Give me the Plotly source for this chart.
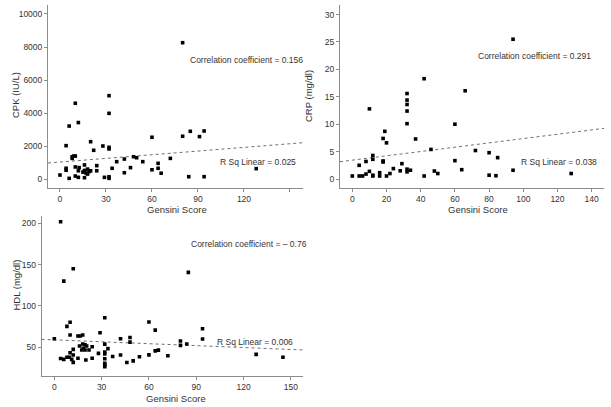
import plotly.graph_objects as go

W, H = 611, 407

# ---------------- data ----------------
cpk_x = [0, 4, 4, 4, 6, 6, 8, 9, 10, 8, 10, 10, 10, 12, 12.5, 12, 12, 15, 16, 16, 16, 17, 18, 18, 19,
         20, 20, 22, 24, 24, 28, 29, 32, 32, 32, 32, 32, 32, 34, 37, 42, 42, 46, 48, 50, 54,
         60, 60, 64, 64, 66, 72, 80, 80, 84, 85, 91, 94, 94, 128]
cpk_y = [240, 2020, 650, 530, 3210, 40, 1350, 1390, 1390, 1250, 4590, 180, 730, 3420, 690, 500, 100, 420,
         850, 520, 80, 360, 600, 300, 450, 2260, 500, 1740, 810, 500, 2000, 100, 1920, 1820, 3980, 5050,
         140, 40, 650, 1050, 1210, 380, 690, 1350, 1290, 1050, 2530, 560, 950, 650, 350, 1250, 8260,
         2590, 140, 2890, 2570, 2910, 140, 630]

crp_x = [0, 4, 4, 6, 8, 8, 10, 10, 12, 12, 12, 12, 16, 16, 18, 18, 18, 19, 20, 20, 22, 24, 28, 29,
         32, 32, 32, 32, 32, 32, 32, 34, 37, 42, 42, 46, 48, 50, 60, 60, 64, 66, 72, 80, 80, 84, 85,
         94, 94, 128]
crp_y = [0.55, 2.5, 0.55, 0.55, 3.2, 0.9, 12.8, 1.4, 4.3, 3.6, 0.7, 0.55, 1.15, 0.55, 7.4, 3.3, 3.1,
         8.7, 6.6, 0.55, 1.0, 1.9, 1.5, 2.8, 15.6, 14.4, 13.6, 12.4, 10.1, 1.8, 1.3, 1.6, 7.3, 18.3,
         0.55, 5.4, 1.46, 1.0, 10.0, 3.35, 1.7, 16.1, 5.2, 4.8, 0.7, 0.6, 3.9, 25.5, 1.6, 1.0]

hdl_x = [0, 4, 4, 6, 6, 8, 8, 9.5, 10, 10, 10, 11, 12, 12, 12, 12, 15, 15, 16.5, 16, 18, 18, 18.4,
         17.4, 19.5, 19.5, 20.5, 20, 22, 24, 24, 28, 29, 32, 32, 32, 32, 32, 32, 32, 32, 34, 37, 42,
         42, 46, 48, 48, 50, 54, 60, 60, 64, 64, 66, 72, 80, 80, 84, 85, 94, 94, 128, 145]
hdl_y = [60, 202, 36, 130, 35, 75, 37.5, 37.5, 80, 64.6, 43, 35, 145, 47.2, 40.3, 31.4, 63.4, 36.3,
         63.4, 51.2, 64.6, 53.6, 48.4, 46.4, 52.8, 46.4, 51.2, 34.2, 46.4, 50.4, 36.3, 42.3, 67.4,
         85.5, 53.5, 44, 41.5, 35.8, 30.2, 28.2, 26.1, 48, 38.5, 60, 40.3, 31.2, 61.5, 56, 33.2,
         38.2, 80.3, 40.5, 70.5, 45.3, 46.2, 39.5, 57.3, 52, 53.6, 140.6, 72.2, 59.7, 41.1, 37.5]

# fit lines (intercept, slope)
cpk_fit = (1028, 7.4)
crp_fit = (3.44, 0.0394)
hdl_fit = (58.7, -0.0778)

cpk_xticks = [0, 30, 60, 90, 120, 150]
cpk_xtext = ["0", "30", "60", "90", "120", ""]
cpk_yticks = [0, 2000, 4000, 6000, 8000, 10000]
crp_xticks = [0, 20, 40, 60, 80, 100, 120, 140]
crp_yticks = [0, 5, 10, 15, 20, 25, 30]
hdl_xticks = [0, 30, 60, 90, 120, 150]
hdl_yticks = [50, 100, 150, 200]

x_title = "Gensini Score"
y_titles = ["CPK (IU/L)", "CRP (mg/dl)", "HDL (mg/dl)"]
corr_texts = ["Correlation coefficient = 0.156", "Correlation coefficient = 0.291",
              "Correlation coefficient = \u2013 0.76"]
rsq_texts = ["R Sq Linear = 0.025", "R Sq Linear = 0.038", "R Sq Linear = 0.006"]

# ---------------- layout helpers ----------------
FONT = "Liberation Sans, Arial, sans-serif"
TXT = "#333333"
AX = "#8c8c8c"


def px_x(p):
    return p / W


def px_y(p):
    return 1 - p / H


panels = [
    dict(x=cpk_x, y=cpk_y, fit=cpk_fit, xr=[-7.8, 158.5], yr=[-545, 10545],
         xd=[48, 303], yd=[5, 188], xt=cpk_xticks, xtt=cpk_xtext, yt=cpk_yticks,
         xtitle=(177, 209), ytitle=(15, 95), corr=(246.5, 60), rsq=(257.5, 162)),
    dict(x=crp_x, y=crp_y, fit=crp_fit, xr=[-7.2, 147.2], yr=[-1.64, 31.75],
         xd=[340, 604], yd=[5, 188], xt=crp_xticks, xtt=[str(v) for v in crp_xticks], yt=crp_yticks,
         xtitle=(478, 209), ytitle=(309, 96), corr=(534, 56), rsq=(558.5, 162)),
    dict(x=hdl_x, y=hdl_y, fit=hdl_fit, xr=[-8.0, 157.9], yr=[15.2, 209],
         xd=[41.7, 303.3], yd=[216, 375.7], xt=hdl_xticks, xtt=[str(v) for v in hdl_xticks], yt=hdl_yticks,
         xtitle=(176, 398), ytitle=(15.5, 285), corr=(248.5, 244), rsq=(255, 342)),
]

fig = go.Figure()
annotations = []
for i, p in enumerate(panels):
    n = "" if i == 0 else str(i + 1)
    xa, ya = "x" + n, "y" + n
    b0, b1 = p["fit"]
    lx = [p["xr"][0], p["xr"][1]]
    ly = [b0 + b1 * v for v in lx]
    fig.add_trace(go.Scatter(x=lx, y=ly, mode="lines", xaxis=xa, yaxis=ya,
                             line=dict(color="#707070", width=1, dash="dot"),
                             hoverinfo="skip", showlegend=False))
    fig.add_trace(go.Scatter(x=p["x"], y=p["y"], mode="markers", xaxis=xa, yaxis=ya,
                             marker=dict(symbol="square", size=3.6, color="black", line=dict(width=0)),
                             showlegend=False))
    axis_common = dict(showgrid=False, zeroline=False, showline=True, linecolor=AX, linewidth=1,
                       ticks="outside", ticklen=3, tickcolor=AX, tickwidth=1,
                       tickfont=dict(family=FONT, size=8.5, color=TXT))
    fig.layout["xaxis" + n] = dict(axis_common, domain=[px_x(p["xd"][0]), px_x(p["xd"][1])],
                                   range=p["xr"], tickmode="array", tickvals=p["xt"], ticktext=p["xtt"],
                                   anchor=ya)
    fig.layout["yaxis" + n] = dict(axis_common, domain=[px_y(p["yd"][1]), px_y(p["yd"][0])],
                                   range=p["yr"], tickmode="array", tickvals=p["yt"],
                                   ticktext=[str(v) for v in p["yt"]], anchor=xa)
    annotations.append(dict(text=x_title, x=px_x(p["xtitle"][0]), y=px_y(p["xtitle"][1]),
                            xref="paper", yref="paper", showarrow=False, xanchor="center", yanchor="middle",
                            borderpad=0, font=dict(family=FONT, size=9.5, color=TXT)))
    annotations.append(dict(text=y_titles[i], x=px_x(p["ytitle"][0]), y=px_y(p["ytitle"][1]),
                            xref="paper", yref="paper", showarrow=False, textangle=-90,
                            xanchor="center", yanchor="middle",
                            font=dict(family=FONT, size=9.5, color=TXT)))
    annotations.append(dict(text=corr_texts[i], x=px_x(p["corr"][0]), y=px_y(p["corr"][1]),
                            xref="paper", yref="paper", showarrow=False, xanchor="center", yanchor="middle",
                            font=dict(family=FONT, size=8.5, color=TXT)))
    annotations.append(dict(text=rsq_texts[i], x=px_x(p["rsq"][0]), y=px_y(p["rsq"][1]),
                            xref="paper", yref="paper", showarrow=False, xanchor="center", yanchor="middle",
                            font=dict(family=FONT, size=8.5, color=TXT)))

fig.update_layout(width=W, height=H, margin=dict(l=0, r=0, t=0, b=0),
                  paper_bgcolor="white", plot_bgcolor="white",
                  annotations=annotations, showlegend=False)

fig.write_html("out.html", config={"displayModeBar": False},
               post_script="document.body.style.margin='0';document.body.style.overflow='hidden';")
